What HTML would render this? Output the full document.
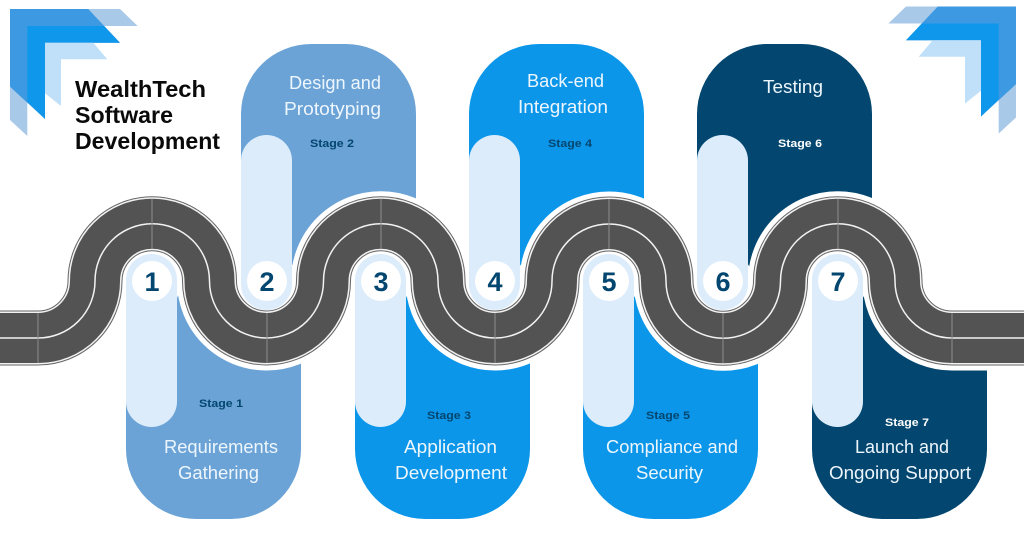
<!DOCTYPE html>
<html>
<head>
<meta charset="utf-8">
<style>
html,body{margin:0;padding:0;background:#fff}
svg{display:block}
text{font-family:"Liberation Sans",sans-serif}
.l{font-size:18px;fill:#eef6fd}
.s{font-size:11px;font-weight:bold;fill:#03466f}
.t{font-size:23.5px;font-weight:bold;fill:#0a0a0a}
.n{font-size:27px;font-weight:bold;fill:#03466f;text-anchor:middle}
</style>
</head>
<body>
<svg width="1024" height="538" viewBox="0 0 1024 538" xmlns="http://www.w3.org/2000/svg">
<defs>
<g id="chev">
<polygon points="88.3,9 120,9 137.7,26 104,26" fill="#a9c9e8"/>
<polygon points="10,86.7 27.3,101.7 27.3,136 10,120" fill="#a9c9e8"/>
<polygon points="10,9 88.3,9 120,42.7 45,42.7 45,119 10,86.7" fill="#3d9ae2"/>
<polygon points="27.3,26 104,26 120,42.7 45,42.7 45,119 27.3,101.7" fill="#0f97ec"/>
<polygon points="45,42.7 93.3,42.7 107.3,59.3 61,59.3 61,106 45,93.3" fill="#bfe0f8"/>
</g>
<path id="rd" d="M0 338H38A57 57 0 0 0 95 281A57 57 0 0 1 209.5 281A57 57 0 0 0 323.5 281A57 57 0 0 1 438 281A57 57 0 0 0 552 281A57 57 0 0 1 666 281A57 57 0 0 0 780.5 281A57 57 0 0 1 895 281A57 57 0 0 0 952 338H1024" fill="none"/>
</defs>
<rect width="1024" height="538" fill="#fff"/>
<use href="#chev"/>
<use href="#chev" transform="translate(1026,-2.5) scale(-1,1)"/>

<!-- panels -->
<rect x="241" y="44" width="175" height="310" rx="70" fill="#6ba3d6"/>
<rect x="469" y="44" width="175" height="310" rx="70" fill="#0b96ea"/>
<rect x="697" y="44" width="175" height="310" rx="70" fill="#03466f"/>
<rect x="0" y="281" width="1024" height="80" fill="#fff"/>
<path d="M126 285H301V449A70 70 0 0 1 231 519H196A70 70 0 0 1 126 449Z" fill="#6ba3d6"/>
<path d="M355 285H530V449A70 70 0 0 1 460 519H425A70 70 0 0 1 355 449Z" fill="#0b96ea"/>
<path d="M583 285H758V449A70 70 0 0 1 688 519H653A70 70 0 0 1 583 449Z" fill="#0b96ea"/>
<path d="M812 285H890V345H987V449A70 70 0 0 1 917 519H882A70 70 0 0 1 812 449Z" fill="#03466f"/>

<!-- white interiors -->
<g fill="#fff">
<circle cx="152" cy="281" r="30"/><circle cx="267" cy="281" r="30"/><circle cx="381" cy="281" r="30"/>
<circle cx="495" cy="281" r="30"/><circle cx="609" cy="281" r="30"/><circle cx="723" cy="281" r="30"/>
<circle cx="838" cy="281" r="30"/>
</g>

<!-- road halo -->
<use href="#rd" stroke="#fff" stroke-width="65"/>

<!-- pills -->
<g fill="#dcecfb">
<rect x="126" y="254" width="51" height="173" rx="25.5"/>
<rect x="355" y="254" width="51" height="173" rx="25.5"/>
<rect x="583" y="254" width="51" height="173" rx="25.5"/>
<rect x="812" y="254" width="51" height="173" rx="25.5"/>
<rect x="241" y="135" width="51" height="175" rx="25.5"/>
<rect x="469" y="135" width="51" height="175" rx="25.5"/>
<rect x="697" y="135" width="51" height="175" rx="25.5"/>
</g>

<!-- road -->
<use href="#rd" stroke="#666" stroke-width="55"/>
<use href="#rd" stroke="#f2f2f2" stroke-width="53"/>
<use href="#rd" stroke="#535353" stroke-width="50"/>
<use href="#rd" stroke="#f2f2f2" stroke-width="1.5"/>
<g stroke="#8c8c8c" stroke-width="1">
<path d="M38 313V363M152 199V249M267 313V363M381 199V249M495 313V363M609 199V249M723 313V363M838 199V249M952 313V363"/>
</g>

<!-- number circles -->
<g fill="#fff">
<circle cx="152" cy="281" r="20"/><circle cx="267" cy="281" r="20"/><circle cx="381" cy="281" r="20"/>
<circle cx="495" cy="281" r="20"/><circle cx="609" cy="281" r="20"/><circle cx="723" cy="281" r="20"/>
<circle cx="838" cy="281" r="20"/>
</g>
<text class="n" x="152" y="291">1</text>
<text class="n" x="267" y="291">2</text>
<text class="n" x="381" y="291">3</text>
<text class="n" x="495" y="291">4</text>
<text class="n" x="609" y="291">5</text>
<text class="n" x="723" y="291">6</text>
<text class="n" x="838" y="291">7</text>

<!-- title -->
<text class="t" x="75" y="97" textLength="131" lengthAdjust="spacingAndGlyphs">WealthTech</text>
<text class="t" x="75" y="123" textLength="98" lengthAdjust="spacingAndGlyphs">Software</text>
<text class="t" x="75" y="149" textLength="145" lengthAdjust="spacingAndGlyphs">Development</text>

<!-- labels -->
<text class="l" x="164" y="453" textLength="114" lengthAdjust="spacingAndGlyphs">Requirements</text>
<text class="l" x="178" y="479" textLength="81" lengthAdjust="spacingAndGlyphs">Gathering</text>
<text class="l" x="289" y="89" textLength="92" lengthAdjust="spacingAndGlyphs">Design and</text>
<text class="l" x="284" y="115" textLength="97" lengthAdjust="spacingAndGlyphs">Prototyping</text>
<text class="l" x="404" y="453" textLength="93" lengthAdjust="spacingAndGlyphs">Application</text>
<text class="l" x="395" y="479" textLength="112" lengthAdjust="spacingAndGlyphs">Development</text>
<text class="l" x="527" y="87" textLength="77" lengthAdjust="spacingAndGlyphs">Back-end</text>
<text class="l" x="518" y="113" textLength="90" lengthAdjust="spacingAndGlyphs">Integration</text>
<text class="l" x="606" y="453" textLength="132" lengthAdjust="spacingAndGlyphs">Compliance and</text>
<text class="l" x="636" y="479" textLength="67" lengthAdjust="spacingAndGlyphs">Security</text>
<text class="l" x="763" y="93" textLength="60" lengthAdjust="spacingAndGlyphs">Testing</text>
<text class="l" x="855" y="453" textLength="94" lengthAdjust="spacingAndGlyphs">Launch and</text>
<text class="l" x="829" y="479" textLength="142" lengthAdjust="spacingAndGlyphs">Ongoing Support</text>

<!-- stages -->
<text class="s" x="199" y="407" textLength="44" lengthAdjust="spacingAndGlyphs">Stage 1</text>
<text class="s" x="310" y="147" textLength="44" lengthAdjust="spacingAndGlyphs">Stage 2</text>
<text class="s" x="427" y="419" textLength="44" lengthAdjust="spacingAndGlyphs">Stage 3</text>
<text class="s" x="548" y="147" textLength="44" lengthAdjust="spacingAndGlyphs">Stage 4</text>
<text class="s" x="646" y="419" textLength="44" lengthAdjust="spacingAndGlyphs">Stage 5</text>
<text class="s" x="778" y="147" textLength="44" lengthAdjust="spacingAndGlyphs" style="fill:#fff">Stage 6</text>
<text class="s" x="885" y="426" textLength="44" lengthAdjust="spacingAndGlyphs" style="fill:#fff">Stage 7</text>
</svg>
</body>
</html>
